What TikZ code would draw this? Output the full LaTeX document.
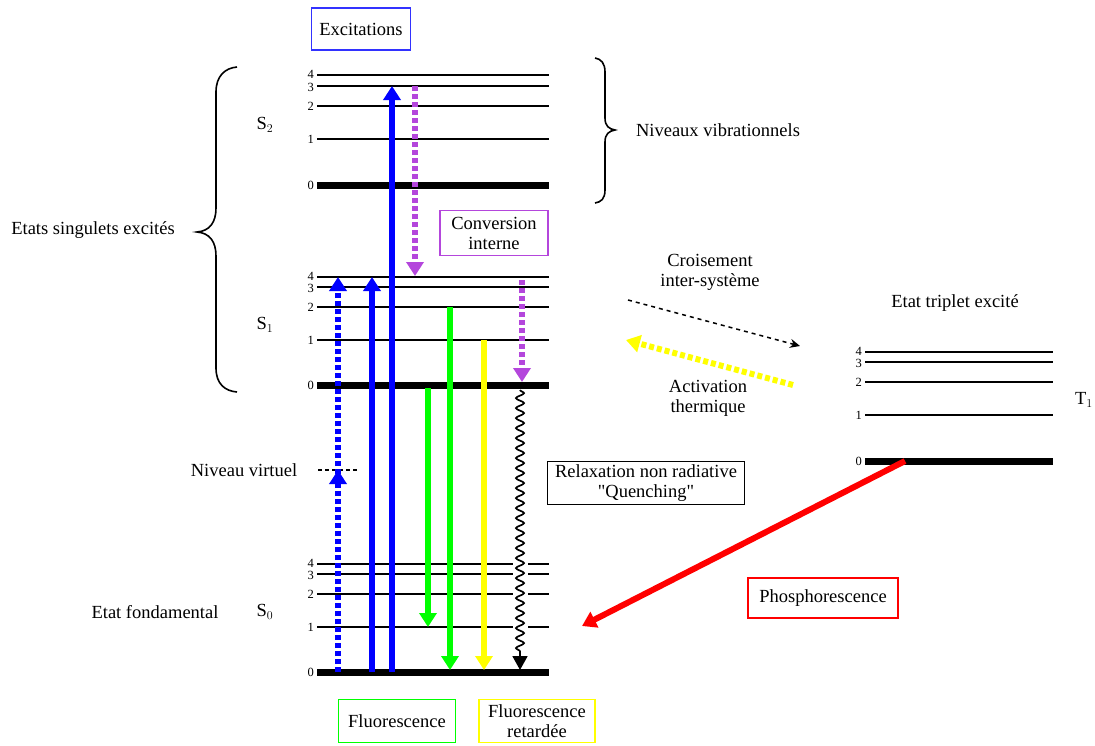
\documentclass[tikz,border=0pt]{standalone}
\usepackage{fontspec}
\setmainfont{Liberation Serif}
\usetikzlibrary{arrows.meta,decorations.pathmorphing}
\definecolor{myblue}{RGB}{0,0,255}
\definecolor{mypurple}{RGB}{180,70,220}
\definecolor{mygreen}{RGB}{0,255,0}
\definecolor{myyellow}{RGB}{255,255,0}
\definecolor{myred}{RGB}{255,0,0}
\definecolor{boxblue}{RGB}{50,50,255}
\tikzset{
  lvl/.style={line width=2pt},
  lvlz/.style={line width=7pt},
  num/.style={font=\fontsize{12.5}{12.5}\selectfont, anchor=east, inner sep=0pt, text height=8.2pt, text depth=0pt},
  lbl/.style={font=\fontsize{18.5}{20}\selectfont, align=center, inner sep=0pt},
  box/.style={draw, line width=1.3pt, inner sep=2pt, font=\fontsize{18.5}{20}\selectfont, align=center},
  bigarrow/.style={line width=6pt, -{Triangle[width=17pt,length=14pt]}},
  dotarrow/.style={line width=6pt, dash pattern=on 5pt off 3pt, -{Triangle[width=17pt,length=14pt]}},
}
\begin{document}
\begin{tikzpicture}[x=1pt,y=-1pt]
\useasboundingbox (0,0) rectangle (1095,745);

% ---- S2 levels
\foreach \n/\y/\d in {4/75/-1,3/86/1,2/106/0,1/139/0}{
  \draw[lvl] (317,\y) -- (549,\y);
  \node[num] at (314,\y+\d) {\n};
}
\draw[lvlz] (317,185) -- (549,185); \node[num] at (314,185) {0};
% ---- S1 levels
\foreach \n/\y/\d in {4/277/-1,3/287/1,2/307/0,1/340/0}{
  \draw[lvl] (317,\y) -- (549,\y);
  \node[num] at (314,\y+\d) {\n};
}
\draw[lvlz] (317,385) -- (549,385); \node[num] at (314,385) {0};
% ---- S0 levels
\foreach \n/\y/\d in {4/564/-1,3/574/1,2/594/0,1/627/0}{
  \draw[lvl] (317,\y) -- (549,\y);
  \node[num] at (314,\y+\d) {\n};
}
\draw[lvlz] (317,672) -- (549,672); \node[num] at (314,672) {0};
% ---- T1 levels
\foreach \n/\y/\d in {4/352/-1,3/362/1,2/382/0,1/415/0}{
  \draw[lvl] (865,\y) -- (1053,\y);
  \node[num] at (862,\y+\d) {\n};
}
\draw[lvlz] (865,461) -- (1053,461); \node[num] at (862,461) {0};

% ---- state labels
\node[lbl] (s2) at (265,125) {S$_2$};
\node[lbl] (s1) at (265,325) {S$_1$};
\node[lbl] (s0) at (265,612) {S$_0$};
\node[lbl] (t1) at (1084,400) {T$_1$};
\node[lbl] (esx) at (93,230) {Etats singulets excités};
\node[lbl] (nv) at (718,130) {Niveaux vibrationnels};
\node[lbl] (ef) at (155,612) {Etat fondamental};
\node[lbl] (nvirt) at (244,470) {Niveau virtuel};
\node[lbl] (etx) at (955,303) {Etat triplet excité};
\node[lbl] (cis) at (710,272) {Croisement\\inter-système};
\node[lbl] (act) at (708,398) {Activation\\thermique};

% ---- braces
\draw[line width=1.6pt] (237,67) .. controls (225,68) and (216,76) .. (216,92)
  -- (216,208) .. controls (216,222) and (210,231) .. (197,232)
  .. controls (210,233) and (216,242) .. (216,256)
  -- (216,368) .. controls (216,384) and (225,391) .. (237,392);
\draw[line width=1.6pt] (595,58) .. controls (601,59) and (605,63) .. (605,72)
  -- (605,118) .. controls (605,126) and (609,129) .. (615,130)
  .. controls (609,131) and (605,134) .. (605,142)
  -- (605,190) .. controls (605,199) and (601,202) .. (595,203);

% ---- boxes
\node[box, draw=boxblue, minimum width=99pt, minimum height=42pt] (exc) at (361,29) {Excitations};
\node[box, draw=mypurple, minimum width=108pt, minimum height=45pt] (ci) at (494,233) {Conversion\\interne};
\node[box, draw=black, minimum width=197pt, minimum height=43pt] (rnr) at (646,483) {Relaxation non radiative\\{\addfontfeature{Ligatures=TeXOff}"Quenching"}};
\node[box, draw=mygreen, minimum width=117pt, minimum height=43pt] (fl) at (397,721) {Fluorescence};
\node[box, draw=myyellow, minimum width=116pt, minimum height=43pt] (flr) at (537,721) {Fluorescence\\retardée};
\node[box, draw=myred, minimum width=150pt, minimum height=40pt] (ph) at (823,598) {Phosphorescence};

% ---- coordinates for arrows
\coordinate (a0) at (338,672);
\coordinate (av) at (338,470);
\coordinate (a4) at (338,277);
\coordinate (b0) at (372,672);
\coordinate (b4) at (372,277);
\coordinate (c0) at (392,672);
\coordinate (c3) at (392,86);
\coordinate (p1s) at (415,86);
\coordinate (p1e) at (415,276);
\coordinate (g1s) at (428,388);
\coordinate (g1e) at (428,627);
\coordinate (g2s) at (450,307);
\coordinate (g2e) at (450,670);
\coordinate (ys) at (484,340);
\coordinate (ye) at (484,670);
\coordinate (p2s) at (522,280);
\coordinate (p2e) at (522,382);
\coordinate (ws) at (520,390);
\coordinate (wm) at (520,652);
\coordinate (we) at (520,670);
\coordinate (iscs) at (628,300);
\coordinate (isce) at (800,346);
\coordinate (ths) at (793,385);
\coordinate (the) at (626,340);
\coordinate (phs) at (905,461);
\coordinate (phe) at (582,626);
\coordinate (vl) at (318,470);
\coordinate (vr) at (357,470);

% ---- virtual level
\draw[line width=1.4pt, dash pattern=on 4pt off 3pt] (vl) -- (vr);

% ---- excitation arrows
\draw[dotarrow, myblue] (a0) -- (av);
\draw[dotarrow, myblue] ([yshift=-4pt]av) -- (a4);
\draw[bigarrow, myblue] (b0) -- (b4);
\draw[bigarrow, myblue] (c0) -- (c3);
% ---- internal conversion
\draw[dotarrow, mypurple] (p1s) -- (p1e);
\draw[dotarrow, mypurple] (p2s) -- (p2e);
% ---- fluorescence
\draw[bigarrow, mygreen] (g1s) -- (g1e);
\draw[bigarrow, mygreen] (g2s) -- (g2e);
\draw[bigarrow, myyellow] (ys) -- (ye);
% ---- quenching wavy
\draw[white, line width=15pt] (520,556) -- (520,636);
\draw[line width=1.7pt, decorate, decoration={snake, amplitude=4pt, segment length=10pt}] (ws) -- (wm);
\draw[line width=1.8pt, -{Triangle[width=15pt,length=14pt]}] (wm) -- (we);
% ---- intersystem crossing, thermal activation
\draw[line width=1.5pt, dash pattern=on 4pt off 4pt, -{Stealth[width=9pt,length=10pt]}] (iscs) -- (isce);
\draw[line width=6pt, myyellow, dash pattern=on 5pt off 3pt, -{Triangle[width=17pt,length=14pt]}] (ths) -- (the);
% ---- phosphorescence
\draw[line width=6pt, myred, -{Triangle[width=17pt,length=14pt]}] (phs) -- (phe);
\end{tikzpicture}
\end{document}
